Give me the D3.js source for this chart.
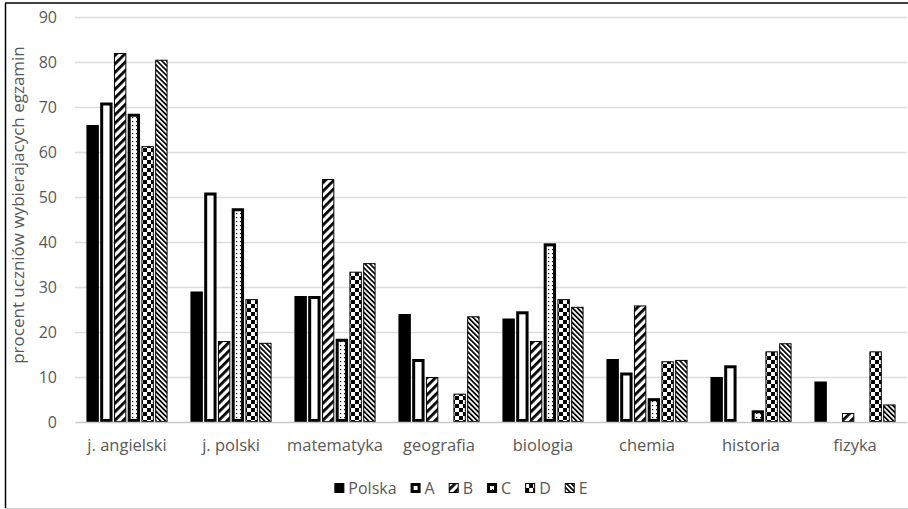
<!DOCTYPE html>
<html>
<head>
<meta charset="utf-8">
<script src="https://cdn.jsdelivr.net/npm/d3@7"></script>
<style>
  body { margin: 0; background: #fff; }
  svg { display: block; font-family: "Open Sans", sans-serif; }
</style>
</head>
<body>
<svg id="chart" width="908" height="509"></svg>
<script>
const subjects = ["j. angielski", "j. polski", "matematyka", "geografia", "biologia", "chemia", "historia", "fizyka"];
const series_names = ["Polska", "A", "B", "C", "D", "E"];

const polska = [66, 29, 28, 24, 23, 14, 10, 9];
const grp_a = [71, 51, 28, 14, 24.6, 11, 12.6, 0];
const grp_b = [82, 18, 54, 10, 18, 25.9, 0, 2];
const grp_c = [68.5, 47.5, 18.5, 0, 39.7, 5.3, 2.6, 0];
const grp_d = [61.3, 27.3, 33.4, 6.3, 27.3, 13.5, 15.7, 15.7];
const grp_e = [80.5, 17.6, 35.3, 23.5, 25.6, 13.8, 17.5, 3.9];

const y_ticks = [0, 10, 20, 30, 40, 50, 60, 70, 80, 90];
const y_title = "procent uczniów wybierajacych egzamin";

const all_values = [polska, grp_a, grp_b, grp_c, grp_d, grp_e];

const svg = d3.select("#chart");
const width = 908, height = 509;
const margin = { left: 75, right: 1, top: 17, bottom: 87 };
const font_color = "#595959";

// patterns for the monochrome bars
const defs = svg.append("defs");

const p_b = defs.append("pattern")
  .attr("id", "pat-b").attr("patternUnits", "userSpaceOnUse")
  .attr("width", 6).attr("height", 6)
  .attr("patternTransform", "rotate(45)");
p_b.append("rect").attr("width", 6).attr("height", 6).attr("fill", "#fff");
p_b.append("rect").attr("width", 2.8).attr("height", 6).attr("fill", "#000");

const p_c = defs.append("pattern")
  .attr("id", "pat-c").attr("patternUnits", "userSpaceOnUse")
  .attr("width", 4).attr("height", 4);
p_c.append("rect").attr("width", 4).attr("height", 4).attr("fill", "#fff");
p_c.append("rect").attr("x", 1).attr("y", 1).attr("width", 1.2).attr("height", 1.2).attr("fill", "#000");

const p_d = defs.append("pattern")
  .attr("id", "pat-d").attr("patternUnits", "userSpaceOnUse")
  .attr("width", 8).attr("height", 8);
p_d.append("rect").attr("width", 8).attr("height", 8).attr("fill", "#fff");
p_d.append("rect").attr("width", 4).attr("height", 4).attr("fill", "#000");
p_d.append("rect").attr("x", 4).attr("y", 4).attr("width", 4).attr("height", 4).attr("fill", "#000");

const p_e = defs.append("pattern")
  .attr("id", "pat-e").attr("patternUnits", "userSpaceOnUse")
  .attr("width", 3.5).attr("height", 3.5)
  .attr("patternTransform", "rotate(-45)");
p_e.append("rect").attr("width", 3.5).attr("height", 3.5).attr("fill", "#fff");
p_e.append("rect").attr("width", 1.7).attr("height", 3.5).attr("fill", "#000");

const styles = {
  Polska: { fill: "#000", stroke: "#000", sw: 1 },
  A: { fill: "#fff", stroke: "#000", sw: 3 },
  B: { fill: "url(#pat-b)", stroke: "#000", sw: 1 },
  C: { fill: "url(#pat-c)", stroke: "#000", sw: 3 },
  D: { fill: "url(#pat-d)", stroke: "#000", sw: 1 },
  E: { fill: "url(#pat-e)", stroke: "#000", sw: 1 }
};

// frame of the cropped excel chart
svg.append("line").attr("x1", 5.5).attr("x2", 5.5).attr("y1", 3).attr("y2", 508)
  .attr("stroke", "#000").attr("stroke-width", 1.5);
svg.append("line").attr("x1", 5).attr("x2", width).attr("y1", 3).attr("y2", 3)
  .attr("stroke", "#000").attr("stroke-width", 1.5);
svg.append("line").attr("x1", 5).attr("x2", width).attr("y1", 508.5).attr("y2", 508.5)
  .attr("stroke", "#d0d0d0").attr("stroke-width", 1);

const x0 = d3.scaleBand()
  .domain(subjects)
  .range([margin.left, width - margin.right]);

const x1 = d3.scaleBand()
  .domain(series_names)
  .range([x0.bandwidth() * 0.11, x0.bandwidth() * 0.89])
  .paddingInner(0.1);

const y = d3.scaleLinear()
  .domain([0, 90])
  .range([height - margin.bottom, margin.top]);

// grid
svg.append("g")
  .selectAll("line")
  .data(y_ticks.filter(d => d > 0))
  .join("line")
  .attr("x1", margin.left).attr("x2", width - margin.right)
  .attr("y1", d => Math.round(y(d)) + 0.5).attr("y2", d => Math.round(y(d)) + 0.5)
  .attr("stroke", "#dcdcdc").attr("stroke-width", 1.3);

// y axis labels
const yAxis = (g) =>
  g.attr("transform", `translate(${ margin.left }, 0)`)
    .call(d3.axisLeft(y).tickValues(y_ticks).tickSize(0).tickPadding(18))
    .call((g) => g.select(".domain").remove())
    .call((g) => g.selectAll("text")
      .attr("fill", font_color)
      .style("font-size", "16px")
      .style("font-family", "'Open Sans', sans-serif"));

svg.append("g").call(yAxis);

// bars
const groups = svg.append("g")
  .selectAll("g")
  .data(subjects)
  .join("g")
  .attr("transform", d => `translate(${ x0(d) }, 0)`);

groups.selectAll("rect")
  .data((d, i) => series_names.map((s, k) => ({ s, v: all_values[k][i] })))
  .join("rect")
  .filter(d => d.v > 0)
  .each(function (d) {
    const st = styles[d.s];
    const half = st.sw / 2;
    d3.select(this)
      .attr("x", x1(d.s) + half)
      .attr("y", y(d.v) + half)
      .attr("width", x1.bandwidth() - st.sw)
      .attr("height", Math.max(0, y(0) - y(d.v) - st.sw))
      .attr("fill", st.fill)
      .attr("stroke", st.stroke)
      .attr("stroke-width", st.sw);
  });

// x axis
const xAxis = (g) =>
  g.attr("transform", `translate(0, ${ y(0) })`)
    .call(d3.axisBottom(x0).tickSize(0).tickPadding(17))
    .call((g) => g.select(".domain").attr("stroke", "#c8c8c8").attr("stroke-width", 1.3))
    .call((g) => g.selectAll("text")
      .attr("fill", font_color)
      .style("font-size", "16.5px")
      .style("font-family", "'Open Sans', sans-serif"));

svg.append("g").call(xAxis);

// y title
svg.append("text")
  .attr("transform", `translate(18, 205) rotate(-90)`)
  .attr("text-anchor", "middle")
  .attr("dy", "0.35em")
  .attr("fill", font_color)
  .style("font-size", "17px")
  .text(y_title);

// legend
const legend = svg.append("g");
let lx = 0;
series_names.forEach((s) => {
  const st = styles[s];
  const item = legend.append("g").attr("transform", `translate(${ lx }, 0)`);
  const inset = st.sw > 1 ? 1.5 : 0.5;
  item.append("rect")
    .attr("x", inset).attr("y", -5 + inset)
    .attr("width", 10 - 2 * inset).attr("height", 10 - 2 * inset)
    .attr("fill", st.fill)
    .attr("stroke", st.stroke)
    .attr("stroke-width", st.sw);
  const t = item.append("text")
    .attr("x", 14).attr("y", 0)
    .attr("dy", "0.35em")
    .attr("fill", font_color)
    .style("font-size", "16px")
    .text(s);
  lx += 14 + t.node().getComputedTextLength() + 14;
});
lx -= 14;
legend.attr("transform", `translate(${ 461 - lx / 2 }, 488)`);
</script>
</body>
</html>
